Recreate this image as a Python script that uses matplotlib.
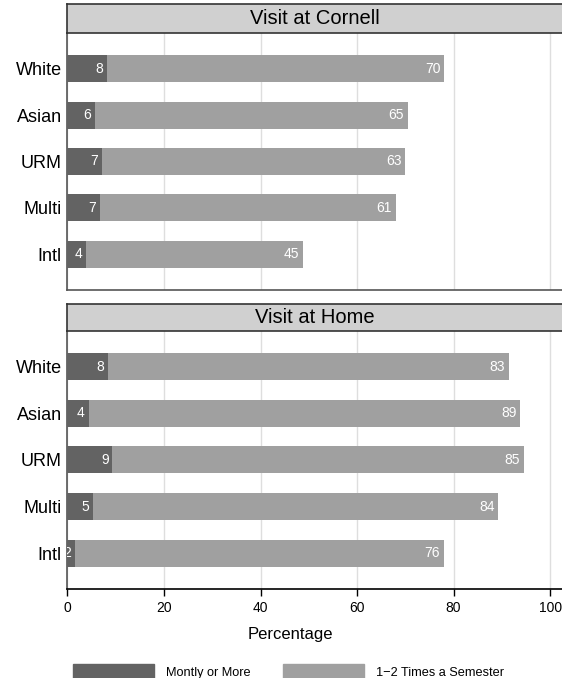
import numpy as np
import matplotlib.pyplot as plt
from matplotlib.patches import Rectangle

plt.rcParams['font.family'] = ['Liberation Sans', 'DejaVu Sans']

groups = ['White', 'Asian', 'URM', 'Multi', 'Intl']
panels = ['Visit at Cornell', 'Visit at Home']
series = ['Montly or More', '1\u22122 Times a Semester']
# percentages per panel, per group
monthly = [[8.1, 5.6, 7.2, 6.8, 3.9],
           [8.3, 4.4, 9.3, 5.3, 1.6]]
semester = [[70.0, 64.9, 62.8, 61.2, 44.9],
            [83.1, 89.4, 85.2, 84.0, 76.4]]
xticks = [0, 20, 40, 60, 80, 100]

dark = '#636363'
light = '#a0a0a0'

fig = plt.figure(figsize=(5.62, 6.78), dpi=100)

# layout in figure fractions (panels run off the right edge)
left = 0.1201
width = 1.02 - left
ax_boxes = [(0.5723, 0.379), (0.1313, 0.3805)]
strip_boxes = [(0.9513, 0.0428), (0.5118, 0.0398)]

ypos = np.arange(len(groups))[::-1]

for i in range(2):
    b, h = ax_boxes[i]
    ax = fig.add_axes([left, b, width, h])
    m = np.array(monthly[i])
    s = np.array(semester[i])
    ax.barh(ypos, m, height=0.58, color=dark, zorder=3)
    ax.barh(ypos, s, left=m, height=0.58, color=light, zorder=3)
    for y, mv, sv in zip(ypos, m, s):
        ax.text(mv - 0.8, y, f'{mv:.0f}', ha='right', va='center',
                color='white', fontsize=10, zorder=4, clip_on=True)
        ax.text(mv + sv - 0.8, y, f'{sv:.0f}', ha='right', va='center',
                color='white', fontsize=10, zorder=4, clip_on=True)
    ax.set_xlim(0, 104.8)
    ax.set_ylim(-0.77, 4.77)
    ax.set_yticks(ypos)
    ax.set_yticklabels(groups, fontsize=13)
    ax.tick_params(axis='y', length=0, pad=4)
    ax.set_xticks(xticks)
    ax.grid(axis='x', color='#dedede', lw=1, zorder=0)
    ax.set_axisbelow(True)
    for sp in ax.spines.values():
        sp.set_color('#555555')
        sp.set_linewidth(1.2)
    ax.spines['right'].set_visible(False)
    ax.spines['top'].set_visible(False)
    if i == 0:
        ax.tick_params(axis='x', length=0, labelbottom=False)
    else:
        ax.spines['bottom'].set_color('black')
        ax.tick_params(axis='x', length=5, width=1, labelsize=10, pad=4)
        ax.set_xlabel('Percentage', fontsize=12)
        ax.xaxis.set_label_coords(0.44, -0.148)

    sb, sh = strip_boxes[i]
    st = fig.add_axes([left, sb, width, sh])
    st.set_facecolor('#d0d0d0')
    st.set_xticks([])
    st.set_yticks([])
    for sp in st.spines.values():
        sp.set_color('#333333')
        sp.set_linewidth(1.2)
    st.spines['right'].set_visible(False)
    st.text(0.4886, 0.5, panels[i], transform=st.transAxes,
            ha='center', va='center', fontsize=14.5)

# legend drawn at the bottom
key_x = [73 / 562, 283 / 562]
for kx, col, lab in zip(key_x, [dark, light], series):
    fig.patches.append(Rectangle((kx, 0), 81 / 562, 14 / 678, color=col,
                                 transform=fig.transFigure, figure=fig))
    fig.text(kx + 93 / 562, 5 / 678, lab, fontsize=9.2, va='center')

plt.savefig('out.png', dpi=100)
